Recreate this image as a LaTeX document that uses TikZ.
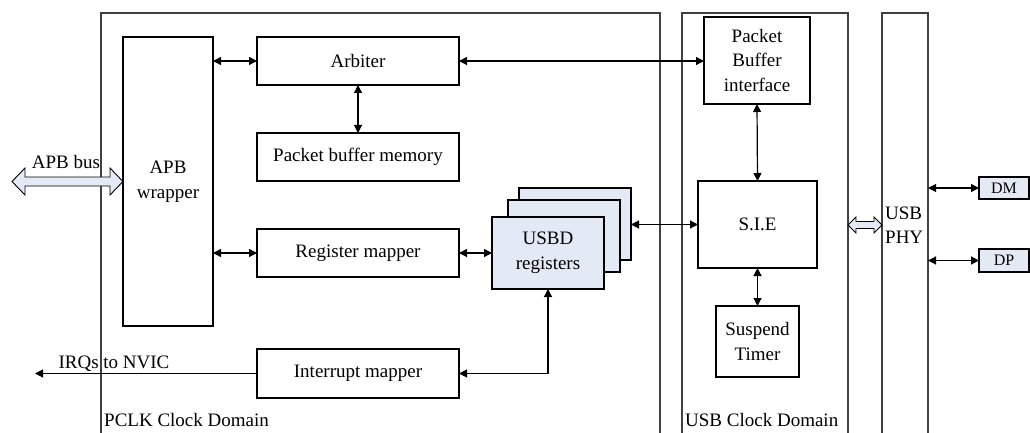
\documentclass[tikz,border=0pt]{standalone}
\usepackage{fontspec}
\setmainfont{Liberation Serif}
\usetikzlibrary{arrows.meta}
\definecolor{regfill}{HTML}{E4EAF5}
\definecolor{frame}{HTML}{404040}
\begin{document}
\begin{tikzpicture}[x=1pt,y=-1pt,
  box/.style={draw, line width=1.2pt, inner sep=0pt, outer sep=0pt, align=center,
    font=\fontsize{19}{24.5}\selectfont},
  regbox/.style={box, fill=regfill},
  lbl/.style={inner sep=0pt, font=\fontsize{19}{24.5}\selectfont, align=left},
  dom/.style={draw=frame, line width=1.3pt},
  conn/.style={line width=1.2pt, {Triangle[length=8pt,width=8pt]}-{Triangle[length=8pt,width=8pt]}},
  oneway/.style={line width=1.2pt, -{Triangle[length=8pt,width=8pt]}},
  hollow/.style={draw, line width=0.9pt, fill=regfill}]
\useasboundingbox (0,0) rectangle (1030,433);

% clock domains and PHY strip
\draw[dom] (101,434) -- (101,13) -- (660,13) -- (660,434);
\draw[dom] (682,434) -- (682,13) -- (848,13) -- (848,434);
\draw[dom] (882,434) -- (882,13) -- (928,13) -- (928,434);
\coordinate (phyL) at (882,0);
\coordinate (phyR) at (928,0);
\coordinate (usbR) at (848,0);
\coordinate (irq) at (35,373.5);

% blocks
\node[box, minimum width=90pt, minimum height=289pt] (apb) at (168,181.5) {APB\\wrapper};
\node[box, minimum width=202pt, minimum height=48pt] (arb) at (358,61) {Arbiter};
\node[box, minimum width=202pt, minimum height=48pt] (pbm) at (358,157) {Packet buffer memory};
\node[box, minimum width=202pt, minimum height=48pt] (regm) at (358,253) {Register mapper};
\node[box, minimum width=202pt, minimum height=49pt] (intm) at (358,373.5) {Interrupt mapper};
\node[regbox, minimum width=112pt, minimum height=72pt] (usbd3) at (575,224) {};
\node[regbox, minimum width=112pt, minimum height=72pt] (usbd2) at (564,236) {};
\node[regbox, minimum width=112pt, minimum height=72pt] (usbd1) at (548,253) {USBD\\registers};
\node[box, minimum width=106pt, minimum height=87pt] (pbi) at (757,60.5) {Packet\\Buffer\\interface};
\node[box, minimum width=119pt, minimum height=87pt] (sie) at (757.5,224.5) {S.I.E};
\node[box, minimum width=83pt, minimum height=71pt] (st) at (757.5,341.5) {Suspend\\Timer};
\node[regbox, minimum width=50pt, minimum height=22pt, font=\fontsize{16}{18}\selectfont] (dm) at (1004,188) {DM};
\node[regbox, minimum width=50pt, minimum height=23pt, font=\fontsize{16}{18}\selectfont] (dp) at (1004,260.5) {DP};

% labels
\node[lbl, anchor=west] (phyt) at (885,225) {USB\\PHY};
\node[lbl] (apbbus) at (66,162) {APB bus};
\node[lbl] (irqt) at (114,364) {IRQs to NVIC};
\node[lbl, anchor=west] (pclk) at (104,420) {PCLK Clock Domain};
\node[lbl, anchor=west] (usbclk) at (685,420) {USB Clock Domain};

% connectors
\draw[conn] (apb.east |- arb) -- (arb.west);
\draw[conn] (apb.east |- regm) -- (regm.west);
\draw[conn] (arb.east) -- (pbi.west |- arb);
\draw[conn] (arb.south) -- (pbm.north);
\draw[conn] (regm.east) -- (usbd1.west |- regm);
\draw[conn] (usbd3.east |- sie) -- (sie.west);
\draw[conn] (pbi.south) -- (sie.north);
\draw[conn] (sie.south) -- (st.north);
\draw[conn] (usbd1.south) -- (usbd1.south |- intm) -- (intm.east);
\draw[oneway] (intm.west) -- (irq);
\draw[conn] (phyR |- dm) -- (dm.west);
\draw[conn] (phyR |- dp) -- (dp.west);

% hollow bus arrows
\draw[hollow] (12,181.5) -- (25,168) -- (25,177) -- (110,177) -- (110,168) -- (apb.west |- 0,181.5)
  -- (110,195) -- (110,186) -- (25,186) -- (25,195) -- cycle;
\draw[hollow] (usbR |- 0,225) -- (856,217) -- (856,221.5) -- (874,221.5) -- (874,217) -- (phyL |- 0,225)
  -- (874,233) -- (874,228.5) -- (856,228.5) -- (856,233) -- cycle;
\end{tikzpicture}
\end{document}
